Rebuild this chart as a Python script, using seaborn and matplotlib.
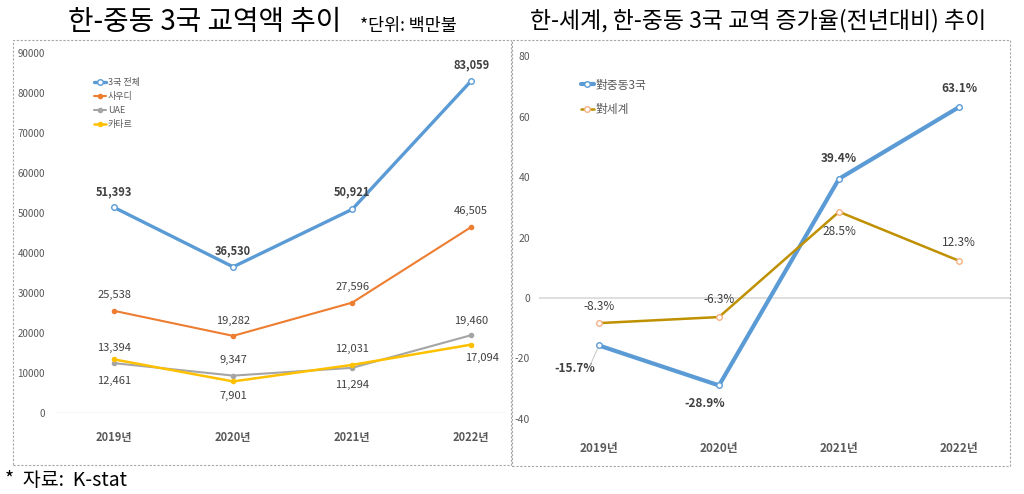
import numpy as np
import pandas as pd
import matplotlib
matplotlib.use("Agg")
import matplotlib.pyplot as plt
from matplotlib.patches import Rectangle
import seaborn as sns

# --- data ---
years = ["2019년", "2020년", "2021년", "2022년"]

# 교역액 (백만불)
total = [51393, 36530, 50921, 83059]
saudi = [25538, 19282, 27596, 46505]
uae = [12461, 9347, 11294, 19460]
qatar = [13394, 7901, 12031, 17094]
trade_names = ["3국 전체", "사우디", "UAE", "카타르"]

# 증가율 (전년대비, %)
mideast_rate = [-15.7, -28.9, 39.4, 63.1]
world_rate = [-8.3, -6.3, 28.5, 12.3]
rate_names = ["對중동3국", "對세계"]

# --- style ---
sns.set_theme(style="white")
FONT = ["Noto Sans CJK KR", "DejaVu Sans"]
plt.rcParams["font.family"] = FONT
plt.rcParams["axes.unicode_minus"] = False

W, H = 1024, 494
fig = plt.figure(figsize=(W / 100, H / 100), dpi=100)
fig.patch.set_facecolor("white")


def px_axes(x0, y0, x1, y1):
    return fig.add_axes([x0 / W, 1 - y1 / H, (x1 - x0) / W, (y1 - y0) / H])


def px2pt(v):
    return v * 0.72


LABEL_COLOR = "#404040"
TICK_COLOR = "#595959"

# panel frames (dashed)
for x0, y0, x1, y1 in [(13, 40, 511, 465), (512, 40, 1010, 466)]:
    fig.add_artist(Rectangle((x0 / W, 1 - y1 / H), (x1 - x0) / W, (y1 - y0) / H,
                             transform=fig.transFigure, fill=False,
                             edgecolor="#A6A6A6", lw=0.8, ls=(0, (2, 1.5))))

# --- left chart: trade amount ---
ax1 = px_axes(55, 53, 507, 413)
x = np.arange(len(years))
trade = pd.DataFrame({"x": np.tile(x, 4),
                      "value": total + saudi + uae + qatar,
                      "series": np.repeat(trade_names, len(years))})
trade_style = {
    "3국 전체": dict(color="#5B9BD5", lw=2.4, markersize=4, mfc="white"),
    "사우디": dict(color="#ED7D31", lw=1.5, markersize=3, mfc="#ED7D31"),
    "UAE": dict(color="#A5A5A5", lw=1.5, markersize=3, mfc="#A5A5A5"),
    "카타르": dict(color="#FFC000", lw=1.8, markersize=3, mfc="#FFC000"),
}
for name in trade_names:
    st = trade_style[name]
    sub = trade[trade["series"] == name]
    sns.lineplot(data=sub, x="x", y="value", ax=ax1, color=st["color"], lw=st["lw"],
                 marker="o", markersize=st["markersize"], markerfacecolor=st["mfc"],
                 markeredgecolor=st["color"], markeredgewidth=1.0, label=name)

ax1.axhline(0, color="#D9D9D9", lw=1, zorder=0)
ax1.set_xlim(-0.496, 3.30)
ax1.set_ylim(0, 90000)
ax1.set_yticks(np.arange(0, 90001, 10000))
ax1.set_yticklabels([str(v) for v in range(0, 90001, 10000)])
ax1.set_xticks(x)
ax1.set_xticklabels(years, fontweight="bold")
ax1.tick_params(axis="y", length=0, pad=px2pt(10), labelsize=7, labelcolor=TICK_COLOR)
ax1.tick_params(axis="x", length=0, pad=px2pt(18), labelsize=8, labelcolor=TICK_COLOR)
ax1.set_xlabel("")
ax1.set_ylabel("")
for s in ax1.spines.values():
    s.set_visible(False)

# data labels: (series values, offsets in px (dx, dy; +dy = up), bold)
trade_labels = [
    (total, [(0, 16), (0, 16), (0, 17), (0, 16)], True),
    (saudi, [(0, 16), (0, 15), (0, 16), (0, 16)], False),
    (uae, [(0, -18), (0, 16), (0, -17), (0, 14)], False),
    (qatar, [(0, 11), (0, -15), (0, 16), (11, -13)], False),
]
for vals, offs, bold in trade_labels:
    for i, (v, (dx, dy)) in enumerate(zip(vals, offs)):
        ax1.annotate(f"{v:,}", (i, v), xytext=(px2pt(dx), px2pt(dy)),
                     textcoords="offset points", ha="center", va="center",
                     fontsize=8, color=LABEL_COLOR,
                     fontweight="bold" if bold else "normal", annotation_clip=False)

ax1.legend(loc="upper left", bbox_to_anchor=(86 / W, 1 - 70 / H),
           bbox_transform=fig.transFigure, frameon=False, fontsize=6.5,
           handlelength=1.3, handletextpad=0.2, labelspacing=0.55,
           labelcolor=TICK_COLOR)

# --- right chart: growth rate ---
ax2 = px_axes(539, 56, 1010, 419)
rates = pd.DataFrame({"x": np.tile(x, 2),
                      "value": mideast_rate + world_rate,
                      "series": np.repeat(rate_names, len(years))})
rate_style = {
    "對중동3국": dict(color="#5B9BD5", lw=3.0, mec="#5B9BD5"),
    "對세계": dict(color="#BF9000", lw=1.8, mec="#F4B183"),
}
for name in rate_names:
    st = rate_style[name]
    sub = rates[rates["series"] == name]
    sns.lineplot(data=sub, x="x", y="value", ax=ax2, color=st["color"], lw=st["lw"],
                 marker="o", markersize=4, markerfacecolor="white",
                 markeredgecolor=st["mec"], markeredgewidth=1.0, label=name)

ax2.axhline(0, color="#D9D9D9", lw=1.2, zorder=0)
ax2.set_xlim(-0.5, 3.425)
ax2.set_ylim(-40, 80)
ax2.set_yticks(np.arange(-40, 81, 20))
ax2.set_yticklabels([str(v) for v in range(-40, 81, 20)])
ax2.set_xticks(x)
ax2.set_xticklabels(years, fontweight="bold")
ax2.tick_params(axis="y", length=0, pad=px2pt(9), labelsize=7.5, labelcolor=TICK_COLOR)
ax2.tick_params(axis="x", length=0, pad=px2pt(23), labelsize=8.5, labelcolor=TICK_COLOR)
ax2.set_xlabel("")
ax2.set_ylabel("")
for s in ax2.spines.values():
    s.set_visible(False)

rate_labels = [
    (mideast_rate, [(-24, -23), (-14, -18), (0, 20), (0, 19)], True),
    (world_rate, [(0, 17), (0, 18), (0, -20), (0, 18)], False),
]
for vals, offs, bold in rate_labels:
    for i, (v, (dx, dy)) in enumerate(zip(vals, offs)):
        ax2.annotate(f"{v:.1f}%", (i, v), xytext=(px2pt(dx), px2pt(dy)),
                     textcoords="offset points", ha="center", va="center",
                     fontsize=8.5, color=LABEL_COLOR,
                     fontweight="bold" if bold else "normal", annotation_clip=False)

# leader line for -15.7%
ax2.annotate("", (0, mideast_rate[0]), xytext=(px2pt(-9), px2pt(-20)),
             textcoords="offset points",
             arrowprops=dict(arrowstyle="-", color="#BFBFBF", lw=0.6,
                             shrinkA=0, shrinkB=2))

ax2.legend(loc="upper left", bbox_to_anchor=(570 / W, 1 - 68 / H),
           bbox_transform=fig.transFigure, frameon=False, fontsize=8.5,
           handlelength=1.1, handletextpad=0.2, labelspacing=1.0,
           labelcolor=TICK_COLOR)

# --- titles and notes ---
fig.text(205 / W, 1 - 22 / H, "한-중동 3국 교역액 추이", ha="center", va="center",
         fontsize=20, color="black")
fig.text(360 / W, 1 - 26 / H, "*단위: 백만불", ha="left", va="center",
         fontsize=12.5, color="black")
fig.text(758 / W, 1 - 21 / H, "한-세계, 한-중동 3국 교역 증가율(전년대비) 추이",
         ha="center", va="center", fontsize=16.5, color="black")
fig.text(5 / W, 1 - 480 / H, "*  자료:  K-stat", ha="left", va="center",
         fontsize=14, color="black")

fig.savefig("out.png", dpi=100, facecolor="white")
